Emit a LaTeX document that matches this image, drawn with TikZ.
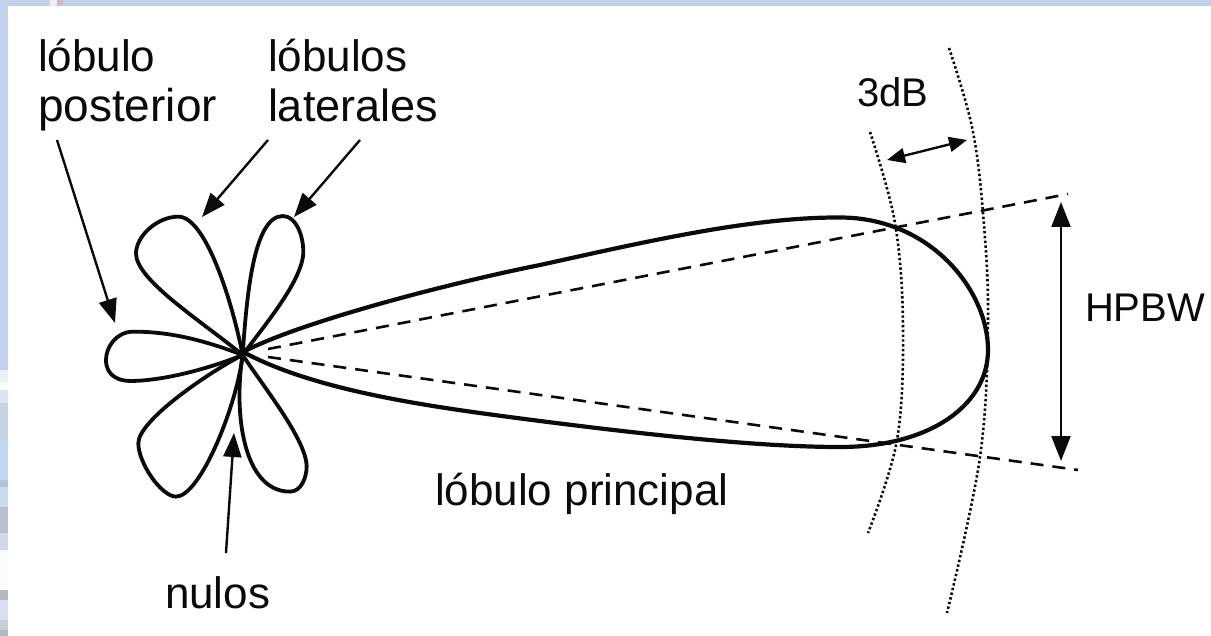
\documentclass[tikz,border=0pt]{standalone}
\usepackage{fontspec}
\setmainfont{Liberation Sans}
\usetikzlibrary{arrows.meta}
\definecolor{frameblue}{HTML}{C3D2EC}
\definecolor{inkblack}{HTML}{0A0A0A}
\tikzset{
  lobe/.style={draw=inkblack,line width=3.8pt,line join=round},
  mainlobe/.style={draw=inkblack,line width=4.2pt,line join=round},
  halfpower/.style={draw=inkblack,line width=2.6pt,dash pattern=on 13pt off 9pt},
  level/.style={draw=inkblack,line width=2.6pt,dash pattern=on 2.4pt off 2.4pt},
  pointer/.style={draw=inkblack,line width=2.4pt,-{Triangle[length=24pt,width=18pt]}},
  span/.style={draw=inkblack,line width=2.4pt,{Triangle[length=18pt,width=15pt]}-{Triangle[length=18pt,width=15pt]}},
  bigspan/.style={draw=inkblack,line width=2.4pt,{Triangle[length=25pt,width=19pt]}-{Triangle[length=25pt,width=19pt]}},
  lab/.style={anchor=base west,inner sep=0pt,outer sep=0pt,text=inkblack,font=\fontsize{44}{44}\selectfont},
  widelab/.style={anchor=base west,inner sep=0pt,outer sep=0pt,text=inkblack,font=\fontsize{46}{46}\selectfont},
  capslab/.style={anchor=base west,inner sep=0pt,outer sep=0pt,text=inkblack,font=\fontsize{40}{40}\selectfont}
}
\begin{document}
\begin{tikzpicture}[x=1pt,y=-1pt]
\useasboundingbox (0,0) rectangle (1211,636);
\fill[frameblue] (0,0) rectangle (1211,636);
\foreach \ya/\yb/\c in {370/382/E8F2FA,382/390/FBFBFD,390/403/DFE5EE,403/440/C4D3E4,440/480/C0D8F0,480/487/B0C4D0,487/507/C8DCEC,507/533/B8C0D0,533/550/D0D8EA,550/590/FAFCFC,590/600/B4B8C0,600/620/D8E0F0,620/630/C4D0D8,630/636/B4B8C0}{
  \definecolor{stripcol}{HTML}{\c}
  \fill[stripcol] (0,\ya) rectangle (8,\yb);
}
\definecolor{speckA}{HTML}{F0EAF4}\definecolor{speckB}{HTML}{CCBCC4}
\fill[speckA] (50,0) rectangle (57,6);
\fill[speckB] (57,0) rectangle (63,6);
\fill[white] (8,6) rectangle (1211,636);
% lobes
\begin{scope}[shift={(90,180)},x=0.3333pt,y=-0.3333pt]
\coordinate (C) at (458,525);
\draw[lobe] (C) .. controls (430,380) and (350,110) .. (265,110) .. controls (200,110) and (138,170) .. (138,220) .. controls (138,300) and (330,420) .. (C);
\draw[lobe] (C) .. controls (470,350) and (490,110) .. (578,108) .. controls (620,108) and (640,170) .. (640,215) .. controls (640,300) and (520,440) .. (C);
\draw[lobe] (C) .. controls (340,480) and (240,455) .. (130,455) .. controls (80,455) and (48,500) .. (48,540) .. controls (48,590) and (90,603) .. (120,603) .. controls (220,603) and (360,565) .. (C);
\draw[lobe] (C) .. controls (360,575) and (145,720) .. (145,790) .. controls (145,850) and (215,950) .. (258,950) .. controls (330,950) and (440,680) .. (C);
\draw[lobe] (C) .. controls (430,700) and (460,935) .. (600,935) .. controls (635,935) and (650,890) .. (650,860) .. controls (650,780) and (520,620) .. (C);
\end{scope}
\draw[mainlobe] (243,352) .. controls (300,322) and (450,283) .. (540,265) .. controls (640,243) and (750,217) .. (840,217.5) .. controls (930,217.5) and (988,290) .. (988,350) .. controls (988,405) and (930,447) .. (840,447) .. controls (760,447) and (650,435) .. (540,421) .. controls (440,408) and (320,393) .. (243,352);
% half-power lines
\coordinate (hpT0) at (268,349); \coordinate (hpT1) at (1068,194);
\coordinate (hpB0) at (268,357); \coordinate (hpB1) at (1078,470);
\draw[halfpower] (hpT0) -- (hpT1);
\draw[halfpower] (hpB0) -- (hpB1);
% 3 dB levels
\draw[level] plot[smooth,tension=0.6] coordinates {(870,132) (895,223) (903,327) (897,440) (868,533)};
\draw[level] plot[smooth,tension=0.6] coordinates {(949,48) (972,127) (983,213) (988,320) (980,457) (947,613)};
% labels
\node[lab] (lp1) at (38,72) {lóbulo};
\node[widelab] (lp2) at (38,122) {posterior};
\node[lab] (ll1) at (268,72) {lóbulos};
\node[lab,font=\fontsize{45}{45}\selectfont] (ll2) at (268,122) {laterales};
\node[capslab] (db) at (857,107) {3dB};
\node[capslab] (hp) at (1085,322) {HPBW};
\node[lab] (main) at (435,505) {lóbulo principal};
\node[lab] (nu) at (165,608) {nulos};
% connectors
\coordinate (a1s) at (57,140); \coordinate (a1e) at (115,323);
\coordinate (a2s) at (268,140); \coordinate (a2e) at (202,217);
\coordinate (a3s) at (360,140); \coordinate (a3e) at (294,217);
\coordinate (a4s) at (226,553); \coordinate (a4e) at (234,433);
\coordinate (b1s) at (887,160); \coordinate (b1e) at (967,140);
\coordinate (b2s) at (1061,202); \coordinate (b2e) at (1061,461);
\draw[pointer] (a1s) -- (a1e);
\draw[pointer] (a2s) -- (a2e);
\draw[pointer] (a3s) -- (a3e);
\draw[pointer] (a4s) -- (a4e);
\draw[span] (b1s) -- (b1e);
\draw[bigspan] (b2s) -- (b2e);
\end{tikzpicture}
\end{document}
